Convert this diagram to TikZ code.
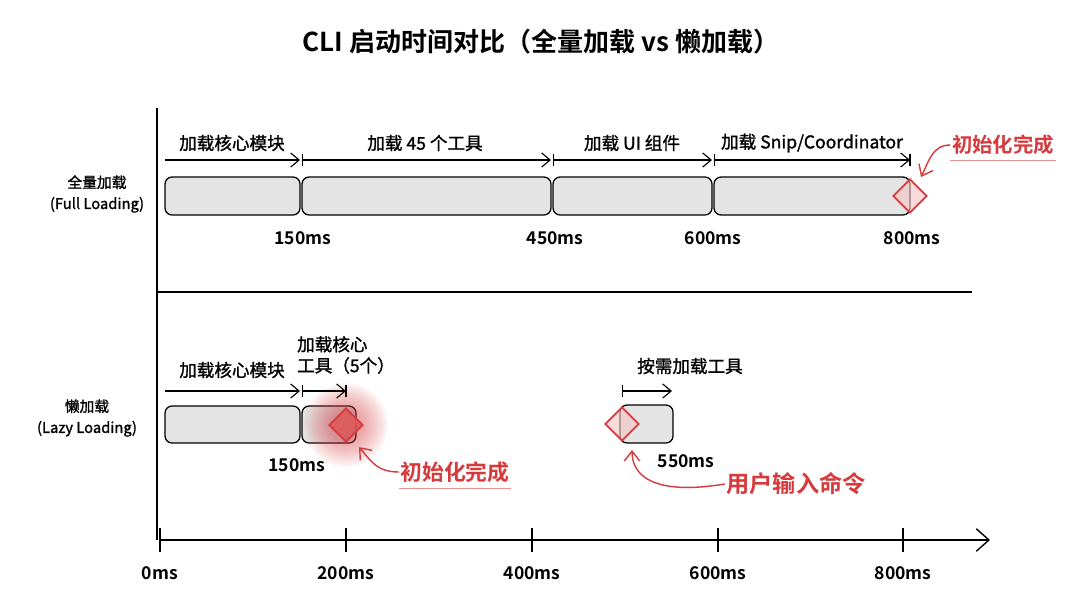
\documentclass[tikz,border=0pt]{standalone}
\usepackage{fontspec}
\setmainfont{Noto Sans CJK SC}[BoldFont={Noto Sans CJK SC Bold}]
\newfontfamily\medium{Noto Sans CJK SC}[FakeBold=1.3]
\usepackage{xcolor}
\usetikzlibrary{arrows.meta, shapes.geometric, positioning}

\definecolor{redmark}{HTML}{D63A3C}
\definecolor{barfill}{HTML}{E4E4E4}

\tikzset{
  bar/.style={draw, line width=0.9pt, rounded corners=5pt, fill=barfill},
  span/.style={line width=0.8pt, -{Straight Barb[length=6pt,width=10pt]}},
  spanb/.style={line width=0.8pt, {Bar[width=8pt]}-{Straight Barb[length=6pt,width=10pt]}},
  lbl/.style={inner sep=1pt, font=\medium\fontsize{12.5}{15}\selectfont},
  ms/.style={inner sep=1pt, font=\bfseries\fontsize{12.5}{15}\selectfont},
  row/.style={inner sep=1pt, align=center, font=\medium\fontsize{10.5}{15}\selectfont},
  done/.style={diamond, draw=redmark, line width=1.2pt, fill=redmark!30, fill opacity=0.6, minimum size=0.85cm, inner sep=0pt},
  note/.style={inner sep=1pt, text=redmark, font=\bfseries\fontsize{15.5}{18}\selectfont},
  callout/.style={draw=redmark, line width=1pt, -{Straight Barb[length=7pt,width=11pt]}},
  uline/.style={draw=redmark!55, line width=1pt}
}

\begin{document}
\begin{tikzpicture}[x=0.025cm, y=-0.025cm]
  \useasboundingbox (0,0) rectangle (1083,599);

  % title
  \node[inner sep=1pt, font=\bfseries\fontsize{18.5}{22}\selectfont] (title) at (541,42) {CLI 启动时间对比（全量加载 vs 懒加载）};

  % frame
  \draw[line width=1pt] (157,108) -- (157,540);
  \draw[line width=1pt] (157,292) -- (972,292);

  % row labels
  \node[row] (full) at (97,194) {全量加载\\(Full Loading)};
  \node[row] (lazy) at (87,418) {懒加载\\(Lazy Loading)};

  % full loading
  \draw[bar] (165,177) rectangle (300,215);
  \draw[bar] (302,177) rectangle (551,215);
  \draw[bar] (553,177) rectangle (712,215);
  \draw[bar] (714,177) rectangle (910,215);
  \draw[span] (165,160) -- (300,160);
  \draw[spanb] (302,160) -- (551,160);
  \draw[spanb] (553,160) -- (712,160);
  \draw[spanb] (714,160) -- (910,160);
  \draw[line width=0.8pt] (910,154) -- (910,166);
  \node[lbl] (f1) at (232,143) {加载核心模块};
  \node[lbl] (f2) at (425,143) {加载 45 个工具};
  \node[lbl] (f3) at (632,143) {加载 UI 组件};
  \node[lbl] (f4) at (812,143) {加载 Snip/Coordinator};
  \node[ms] (t150) at (303,238) {150ms};
  \node[ms] (t450) at (555,238) {450ms};
  \node[ms] (t600) at (713,238) {600ms};
  \node[ms] (t800) at (912,238) {800ms};
  \node[done] (fdone) at (910,196) {};
  \node[note, font=\bfseries\fontsize{14.5}{17}\selectfont] (fnote) at (1003,145) {初始化完成};
  \draw[uline] ([yshift=-3pt]fnote.south west) -- ([yshift=-3pt]fnote.south east);
  \draw[callout] (fnote.west) .. controls +(-18,0) and +(8,-16) .. (921,177);

  % lazy loading
  \draw[bar] (165,406) rectangle (300,443);
  \draw[bar] (302,406) rectangle (356,443);
  \foreach \r in {42,40,...,14}
    \fill[redmark, opacity=0.045] (346,425) circle (\r);
  \draw[span] (165,391) -- (300,391);
  \draw[spanb] (302,391) -- (346,391);
  \draw[line width=0.8pt] (346,385) -- (346,397);
  \node[lbl] (l1) at (232,370) {加载核心模块};
  \node[lbl, align=left] (l2) at (346,355) {加载核心\\工具（5个）};
  \node[ms] (l150) at (297,465) {150ms};
  \node[done, fill=redmark!85, fill opacity=0.85] (ldone) at (346,425) {};
  \node[note] (lnote) at (455,472) {初始化完成};
  \draw[uline] ([yshift=-3pt]lnote.south west) -- ([yshift=-3pt]lnote.south east);
  \draw[callout] (lnote.west) .. controls +(-22,0) and +(12,14) .. (359,447);

  % on demand
  \draw[bar] (620,405) rectangle (673,443);
  \draw[spanb] (622,391) -- (672,391);
  \node[lbl] (l3) at (690,366) {按需加载工具};
  \node[ms] (l550) at (686,461) {550ms};
  \node[done] (ucmd) at (622,424) {};
  \node[note, font=\bfseries\fontsize{16.5}{19}\selectfont] (unote) at (796,484) {用户输入命令};
  \draw[callout] (unote.west) .. controls (665,494) and (632,482) .. (632,450);

  % time axis
  \draw[line width=1pt, -{Straight Barb[length=9pt,width=16pt]}] (160,540) -- (990,540);
  \foreach \x/\t in {160/0ms, 346/200ms, 532/400ms, 718/600ms, 903/800ms} {
    \draw[line width=1pt] (\x,528) -- (\x,552);
    \node[ms] (a\t) at (\x,573) {\t};
  }
\end{tikzpicture}
\end{document}
